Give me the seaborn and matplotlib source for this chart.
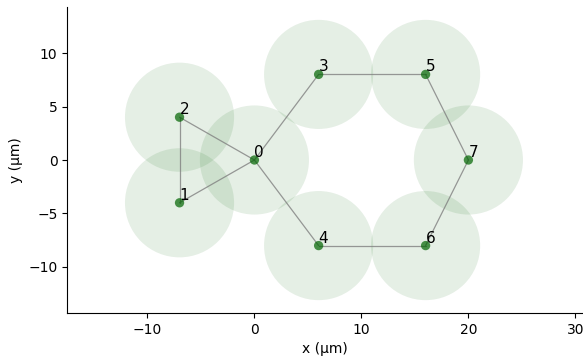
import numpy as np
import matplotlib
matplotlib.use("Agg")
import matplotlib.pyplot as plt
from matplotlib.patches import Circle
import seaborn as sns

# posições dos átomos (µm)
ids = [0, 1, 2, 3, 4, 5, 6, 7]
xs = [0, -7, -7, 6, 6, 16, 16, 20]
ys = [0, -4, 4, 8, -8, 8, -8, 0]
# ligações entre átomos dentro do raio de bloqueio
arestas = [(0, 1), (0, 2), (1, 2), (0, 3), (0, 4), (3, 5), (4, 6), (5, 7), (6, 7)]
raio = 5.1

sns.set_style("ticks", {"axes.edgecolor": "black", "text.color": "black",
                        "xtick.color": "black", "ytick.color": "black",
                        "axes.labelcolor": "black"})
plt.rcParams['font.family'] = ['DejaVu Sans']

fig = plt.figure(figsize=(5.83, 3.56), dpi=100)
ax = fig.add_axes([67 / 583, 43 / 356, 515 / 583, 306 / 356])

for x, y in zip(xs, ys):
    ax.add_patch(Circle((x, y), raio, color='darkgreen', alpha=0.1, lw=0, zorder=1))

for a, b in arestas:
    ax.plot([xs[a], xs[b]], [ys[a], ys[b]], color='grey', lw=0.9, alpha=0.8, zorder=2)

sns.scatterplot(x=xs, y=ys, ax=ax, color='darkgreen', alpha=0.7, s=45,
                edgecolor='none', zorder=3)

for i, x, y in zip(ids, xs, ys):
    ax.annotate(str(i), (x, y), fontsize=11, ha='left', va='bottom', zorder=4)

ax.set_xlim(-17.5, 30.6)
ax.set_ylim(-14.3, 14.3)
ax.set_aspect('equal')
ax.set_xticks([-10, 0, 10, 20, 30])
ax.set_yticks([-10, -5, 0, 5, 10])
ax.set_xlabel("x (µm)")
ax.set_ylabel("y (µm)")
sns.despine(ax=ax)

plt.savefig("out.png", dpi=100)
plt.close()
